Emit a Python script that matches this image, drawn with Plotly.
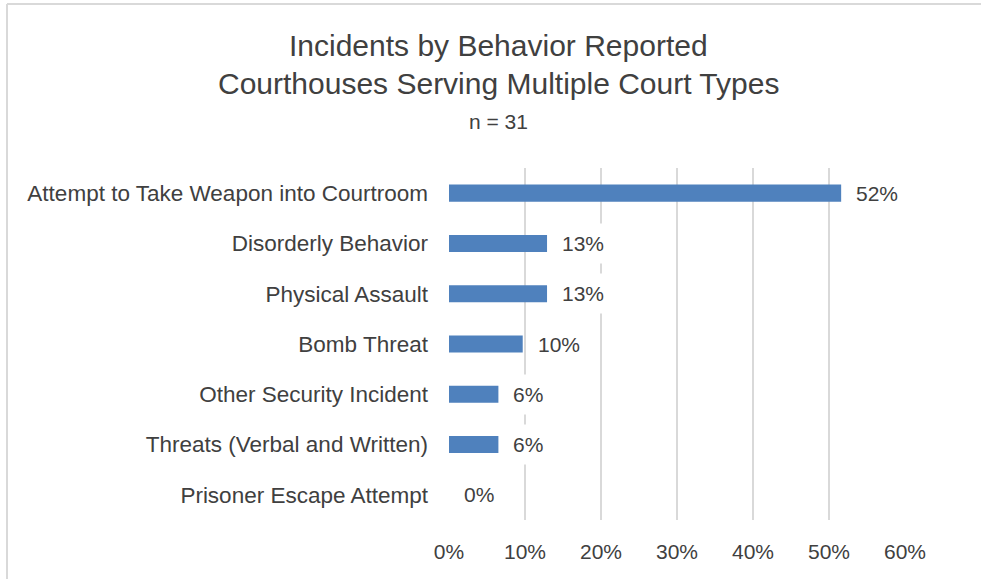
import plotly.graph_objects as go

categories = [
    "Attempt to Take Weapon into Courtroom",
    "Disorderly Behavior",
    "Physical Assault",
    "Bomb Threat",
    "Other Security Incident",
    "Threats (Verbal and Written)",
    "Prisoner Escape Attempt",
]
values = [0.516, 0.129, 0.129, 0.097, 0.065, 0.065, 0.0]
value_labels = ["52%", "13%", "13%", "10%", "6%", "6%", "0%"]
x_ticks = [0, 0.1, 0.2, 0.3, 0.4, 0.5, 0.6]
x_tick_labels = ["0%", "10%", "20%", "30%", "40%", "50%", "60%"]

W, H = 981, 579
L, R, T, B = 449, 76, 168, 59
pw, ph = W - L - R, H - T - B

def px_x(x):
    return (x - L) / pw

def px_y(y):
    return (H - B - y) / ph

TXT = "#404040"
FONT = "Liberation Sans, Arial, sans-serif"

fig = go.Figure(
    go.Bar(
        x=values,
        y=categories,
        orientation="h",
        marker=dict(color="#4F81BD", line=dict(width=0)),
        width=0.34,
        hoverinfo="skip",
    )
)

for cat, v, lab in zip(categories, values, value_labels):
    fig.add_annotation(
        x=v, y=cat, xref="x", yref="y", text=lab, showarrow=False,
        xanchor="left", yanchor="middle", xshift=6,
        bgcolor="white", borderpad=8,
        font=dict(size=21, color=TXT, family=FONT),
    )

title_lines = [
    ("Incidents by Behavior Reported", 30, 45),
    ("Courthouses Serving Multiple Court Types", 30, 83),
    ("n = 31", 21, 121),
]
for text, size, ypx in title_lines:
    fig.add_annotation(
        x=px_x(498), y=px_y(ypx), xref="paper", yref="paper", text=text,
        showarrow=False, xanchor="center", yanchor="middle",
        font=dict(size=size, color=TXT, family=FONT),
    )

# chart area border (left and top edges visible)
fig.add_shape(type="line", xref="paper", yref="paper",
              x0=px_x(7), x1=px_x(7), y0=px_y(4), y1=px_y(600),
              line=dict(color="#D9D9D9", width=2))
fig.add_shape(type="line", xref="paper", yref="paper",
              x0=px_x(7), x1=px_x(1000), y0=px_y(4), y1=px_y(4),
              line=dict(color="#D9D9D9", width=2))

fig.update_layout(
    width=W, height=H,
    margin=dict(l=L, r=R, t=T, b=B),
    paper_bgcolor="white", plot_bgcolor="white",
    showlegend=False,
    font=dict(family=FONT, color=TXT),
    bargap=0.66,
)
fig.update_xaxes(
    range=[0, 0.6], tickvals=x_ticks, ticktext=x_tick_labels,
    showgrid=True, gridcolor="#D9D9D9", gridwidth=1.5,
    zeroline=False, showline=False,
    tickfont=dict(size=21, color=TXT, family=FONT),
    ticklabelstandoff=17, fixedrange=True,
)
fig.update_yaxes(
    autorange="reversed", showgrid=False, zeroline=False, showline=False,
    tickfont=dict(size=22.5, color=TXT, family=FONT),
    ticklabelstandoff=20, fixedrange=True,
)

fig.write_html(
    "out.html",
    config={"displayModeBar": False},
    post_script="document.body.style.margin='0';document.body.style.overflow='hidden';",
)
